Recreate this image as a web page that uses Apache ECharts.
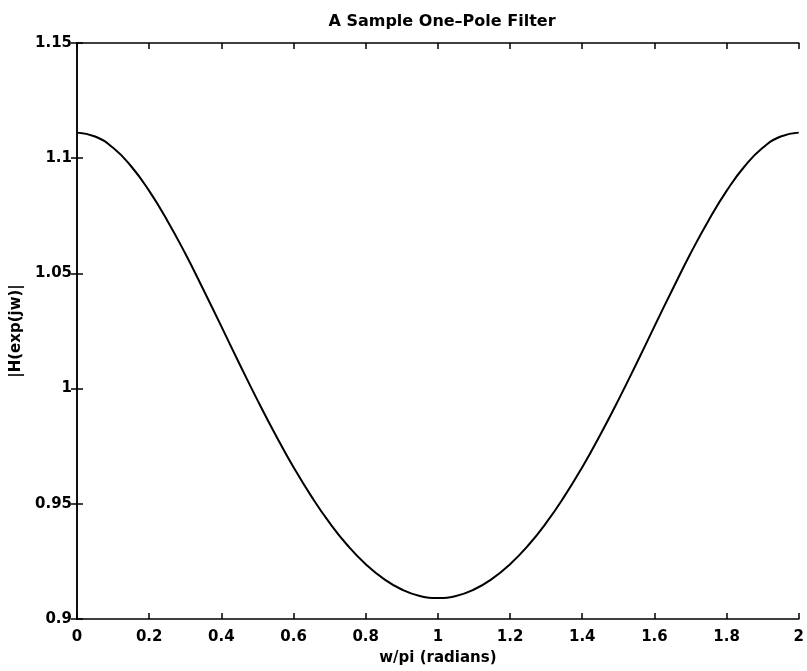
<!DOCTYPE html>
<html>
<head>
<meta charset="utf-8">
<script src="https://cdn.jsdelivr.net/npm/echarts@6/dist/echarts.min.js"></script>
<style>html,body{margin:0;padding:0;background:#fff;}#c{width:807px;height:671px;}</style>
</head>
<body>
<div id="c"></div>
<script>
const titleText = 'A Sample One\u2013Pole Filter';
const xLabel = 'w/pi (radians)';
const yLabel = '|H(exp(jw)|';
const xValues = [0,0.05,0.1,0.15,0.2,0.25,0.3,0.35,0.4,0.45,0.5,0.55,0.6,0.65,0.7,0.75,0.8,0.85,0.9,0.95,1,
  1.05,1.1,1.15,1.2,1.25,1.3,1.35,1.4,1.45,1.5,1.55,1.6,1.65,1.7,1.75,1.8,1.85,1.9,1.95,2];
const magnitude = [1.1111,1.1094,1.1045,1.0965,1.0858,1.0730,1.0586,1.0430,1.0270,1.0108,0.9950,0.9800,0.9659,0.9531,0.9417,0.9319,0.9238,0.9174,0.9128,0.9100,0.9091,
  0.9100,0.9128,0.9174,0.9238,0.9319,0.9417,0.9531,0.9659,0.9800,0.9950,1.0108,1.0270,1.0430,1.0586,1.0730,1.0858,1.0965,1.1045,1.1094,1.1111];
const xTicks = ['0','0.2','0.4','0.6','0.8','1','1.2','1.4','1.6','1.8','2'];
const yTicks = ['0.9','0.95','1','1.05','1.1','1.15'];

const font = 'DejaVu Sans, Liberation Sans, sans-serif';
const chart = echarts.init(document.getElementById('c'));
const axisLine = {show:true, lineStyle:{color:'#000', width:1.5}};
const tick = {show:true, inside:true, length:6, lineStyle:{color:'#000', width:1.5}};
chart.setOption({
  animation:false,
  backgroundColor:'#fff',
  title:{text:titleText, left:437, top:9, textAlign:'center',
    textStyle:{fontFamily:font, fontSize:16, fontWeight:'bold', color:'#000'}},
  grid:{left:77, right:6, top:43, bottom:52, containLabel:false},
  xAxis:[{type:'value', min:0, max:2, interval:0.2, position:'bottom',
    name:xLabel, nameLocation:'middle', nameGap:32,
    nameTextStyle:{fontFamily:font, fontSize:15, fontWeight:'bold', color:'#000'},
    axisLine, axisTick:tick, splitLine:{show:false},
    axisLabel:{fontFamily:font, fontSize:15, fontWeight:'bold', color:'#000', margin:11,
      formatter:v=>xTicks[Math.round(v/0.2)]}},
   {type:'value', min:0, max:2, interval:0.2, position:'top',
    axisLine, axisTick:tick, splitLine:{show:false}, axisLabel:{show:false}}],
  yAxis:[{type:'value', min:0.9, max:1.15, interval:0.05, position:'left',
    name:yLabel, nameLocation:'middle', nameGap:30,
    nameTextStyle:{fontFamily:font, fontSize:15, fontWeight:'bold', color:'#000'},
    axisLine, axisTick:tick, splitLine:{show:false},
    axisLabel:{fontFamily:font, fontSize:15, fontWeight:'bold', color:'#000', margin:5,
      formatter:v=>yTicks[Math.round((v-0.9)/0.05)]}},
   {type:'value', min:0.9, max:1.15, interval:0.05, position:'right',
    axisLine, axisTick:tick, splitLine:{show:false}, axisLabel:{show:false}}],
  series:[{type:'line', data:xValues.map((x,i)=>[x,magnitude[i]]), smooth:true,
    showSymbol:false, lineStyle:{color:'#000', width:2}}]
});
</script>
</body>
</html>
